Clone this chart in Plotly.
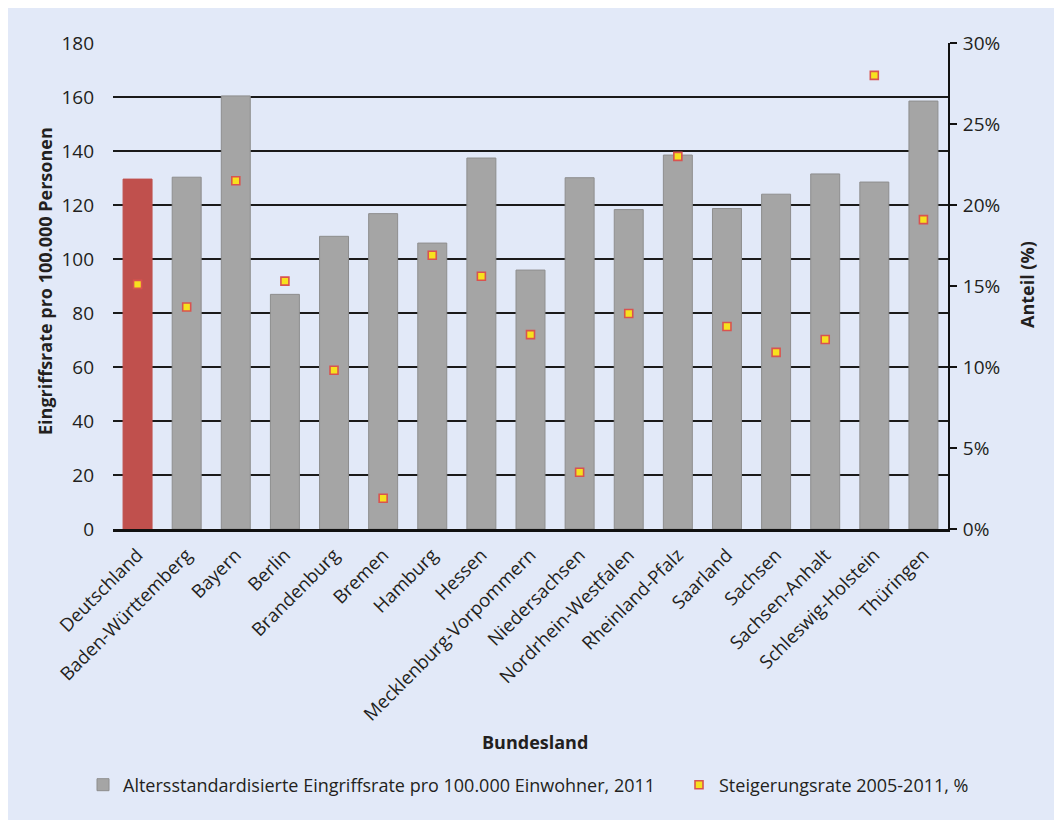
import plotly.graph_objects as go

laender = ["Deutschland", "Baden-Württemberg", "Bayern", "Berlin", "Brandenburg",
           "Bremen", "Hamburg", "Hessen", "Mecklenburg-Vorpommern", "Niedersachsen",
           "Nordrhein-Westfalen", "Rheinland-Pfalz", "Saarland", "Sachsen",
           "Sachsen-Anhalt", "Schleswig-Holstein", "Thüringen"]
eingriffsrate = [129.6, 130.3, 160.4, 86.9, 108.4, 116.8, 105.9, 137.4, 95.9, 130.1,
                 118.3, 138.5, 118.7, 124.0, 131.5, 128.5, 158.5]
steigerung = [15.1, 13.7, 21.5, 15.3, 9.8, 1.9, 16.9, 15.6, 12.0, 3.5,
              13.3, 23.0, 12.5, 10.9, 11.7, 28.0, 19.1]

y_ticks = [0, 20, 40, 60, 80, 100, 120, 140, 160, 180]
y2_ticks = [0, 5, 10, 15, 20, 25, 30]
y2_labels = ["0%", "5%", "10%", "15%", "20%", "25%", "30%"]

FONT = "Open Sans"
TXT = "#231F20"
BG = "#E2E9F8"

# page body has an 8px margin: figure pixel = screen pixel - 8
OFF = 8
W, H = 1062 - OFF, 820 - OFF
# plot area in screen pixels
L, R, T, B = 113, 948, 43, 529
PW, PH = R - L, B - T
def px(x):
    return (x - L) / PW
def py(y):
    return (B - y) / PH

fig = go.Figure()
# national value (red) and federal states (grey), overlaid on the same category axis
fig.add_trace(go.Bar(
    x=laender[:1], y=eingriffsrate[:1], showlegend=False,
    marker=dict(color="#C0504D", line=dict(color="#C0504D", width=1)),
))
fig.add_trace(go.Bar(
    x=laender[1:], y=eingriffsrate[1:],
    name="Altersstandardisierte Eingriffsrate pro 100.000 Einwohner, 2011",
    marker=dict(color="#A5A5A5", line=dict(color="#8E8E8E", width=1)),
    legend="legend",
))
fig.add_trace(go.Scatter(
    x=laender, y=steigerung, mode="markers",
    name="Steigerungsrate 2005-2011, %",
    marker=dict(symbol="square", size=8, color="#F7E11E",
                line=dict(color="#D9534F", width=1.6)),
    yaxis="y2", legend="legend2",
))

leg_common = dict(orientation="h", yanchor="middle", y=py(785), xanchor="left",
                  bgcolor="rgba(0,0,0,0)", font=dict(size=18, color=TXT))

fig.update_layout(
    width=W, height=H,
    margin=dict(l=L - OFF, r=W - (R - OFF), t=T - OFF, b=H - (B - OFF), pad=0,
                autoexpand=False),
    paper_bgcolor=BG, plot_bgcolor=BG,
    font=dict(family=FONT, size=18, color=TXT),
    barmode="overlay",
    bargap=0.41,
    showlegend=True,
    legend=dict(x=px(83), **leg_common),
    legend2=dict(x=px(679), **leg_common),
    xaxis=dict(
        type="category", categoryorder="array", categoryarray=laender,
        range=[-0.5, len(laender) - 0.5],
        tickangle=-45, showgrid=False, ticks="", automargin=False,
        showline=True, linecolor="#111111", linewidth=3,
        tickfont=dict(size=18.5, color=TXT), ticklabelstandoff=5,
    ),
    yaxis=dict(
        range=[0, 180], tickvals=y_ticks, showgrid=True, gridcolor="#1A1A1A", gridwidth=1.6,
        zeroline=False, showline=False, ticks="", automargin=False,
        tickfont=dict(size=19, color=TXT), ticklabelstandoff=18,
    ),
    yaxis2=dict(
        range=[0, 30], tickvals=y2_ticks, ticktext=y2_labels, overlaying="y", side="right",
        showgrid=False, zeroline=False, showline=True, linecolor="#111111", linewidth=2,
        ticks="outside", ticklen=7, tickcolor="#111111", tickwidth=1.5, automargin=False,
        tickfont=dict(size=19, color=TXT), ticklabelstandoff=2,
    ),
    annotations=[
        dict(text="<b>Bundesland</b>", xref="paper", yref="paper", x=px(535), y=py(742),
             xanchor="center", yanchor="middle", showarrow=False,
             font=dict(size=18, color=TXT)),
        dict(text="<b>Eingriffsrate pro 100.000 Personen</b>", xref="paper", yref="paper",
             x=px(45), y=py(281), xanchor="center", yanchor="middle", textangle=-90,
             showarrow=False, font=dict(size=18, color=TXT)),
        dict(text="<b>Anteil (%)</b>", xref="paper", yref="paper",
             x=px(1027), y=py(285), xanchor="center", yanchor="middle", textangle=-90,
             showarrow=False, font=dict(size=18, color=TXT)),
    ],
)

fig.write_html("out.html")
